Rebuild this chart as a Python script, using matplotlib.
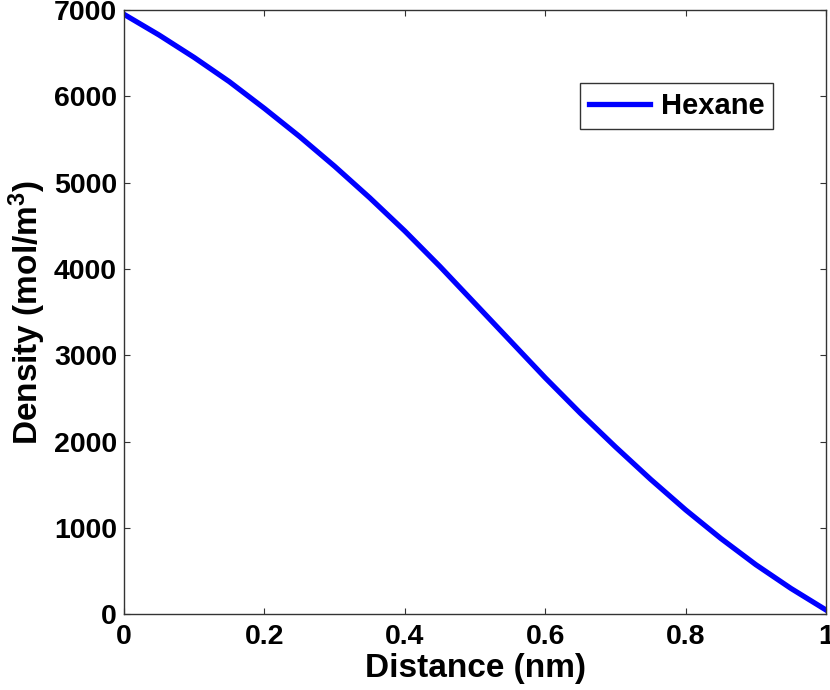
import numpy as np
import matplotlib
matplotlib.use("Agg")
import matplotlib.pyplot as plt


# =========================
# データ
# =========================

distance = [0.00, 0.05, 0.10, 0.15, 0.20, 0.25, 0.30, 0.35, 0.40, 0.45, 0.50,
            0.55, 0.60, 0.65, 0.70, 0.75, 0.80, 0.85, 0.90, 0.95, 1.00]
density = [6950, 6710, 6450, 6170, 5860, 5535, 5190, 4825, 4440, 4030, 3600,
           3170, 2740, 2330, 1940, 1565, 1210, 880, 575, 300, 50]

x_ticks = [0, 0.2, 0.4, 0.6, 0.8, 1.0]
x_ticklabels = ["0", "0.2", "0.4", "0.6", "0.8", "1"]
y_ticks = [0, 1000, 2000, 3000, 4000, 5000, 6000, 7000]


# =========================
# 描画
# =========================

plt.rcParams["font.family"] = ["Liberation Sans", "DejaVu Sans"]
plt.rcParams["font.weight"] = "bold"
plt.rcParams["mathtext.fontset"] = "custom"
plt.rcParams["mathtext.rm"] = "Liberation Sans:bold"
plt.rcParams["mathtext.bf"] = "Liberation Sans:bold"
plt.rcParams["mathtext.default"] = "bf"

fig = plt.figure(figsize=(8.3, 6.9), dpi=100)
ax = fig.add_axes([0.1494, 0.1097, 0.8458, 0.8758])

ax.plot(distance, density, color="#0000ff", lw=3.8, label="Hexane",
        solid_joinstyle="round")

ax.set_xlim(0, 1)
ax.set_ylim(0, 7000)
ax.set_xticks(x_ticks)
ax.set_xticklabels(x_ticklabels)
ax.set_yticks(y_ticks)

ax.tick_params(direction="in", length=4.5, width=0.8, top=True, right=True,
               labelsize=20.5, pad=5, colors="#333333", labelcolor="black")
ax.tick_params(axis="x", pad=7)
for s in ax.spines.values():
    s.set_color("#333333")
    s.set_linewidth(1.0)

ax.set_xlabel("Distance (nm)", fontsize=24, fontweight="bold", labelpad=2)
ax.set_ylabel("Density (mol/m$^{3}$)", fontsize=24, fontweight="bold", labelpad=4)

leg = ax.legend(loc="upper right", bbox_to_anchor=(0.9245, 0.879),
                borderaxespad=0, fancybox=False, fontsize=21,
                handlelength=2.1, handletextpad=0.35, borderpad=0.3)
leg.get_frame().set_edgecolor("black")
leg.get_frame().set_linewidth(1.0)

plt.savefig("out.png", dpi=100)
